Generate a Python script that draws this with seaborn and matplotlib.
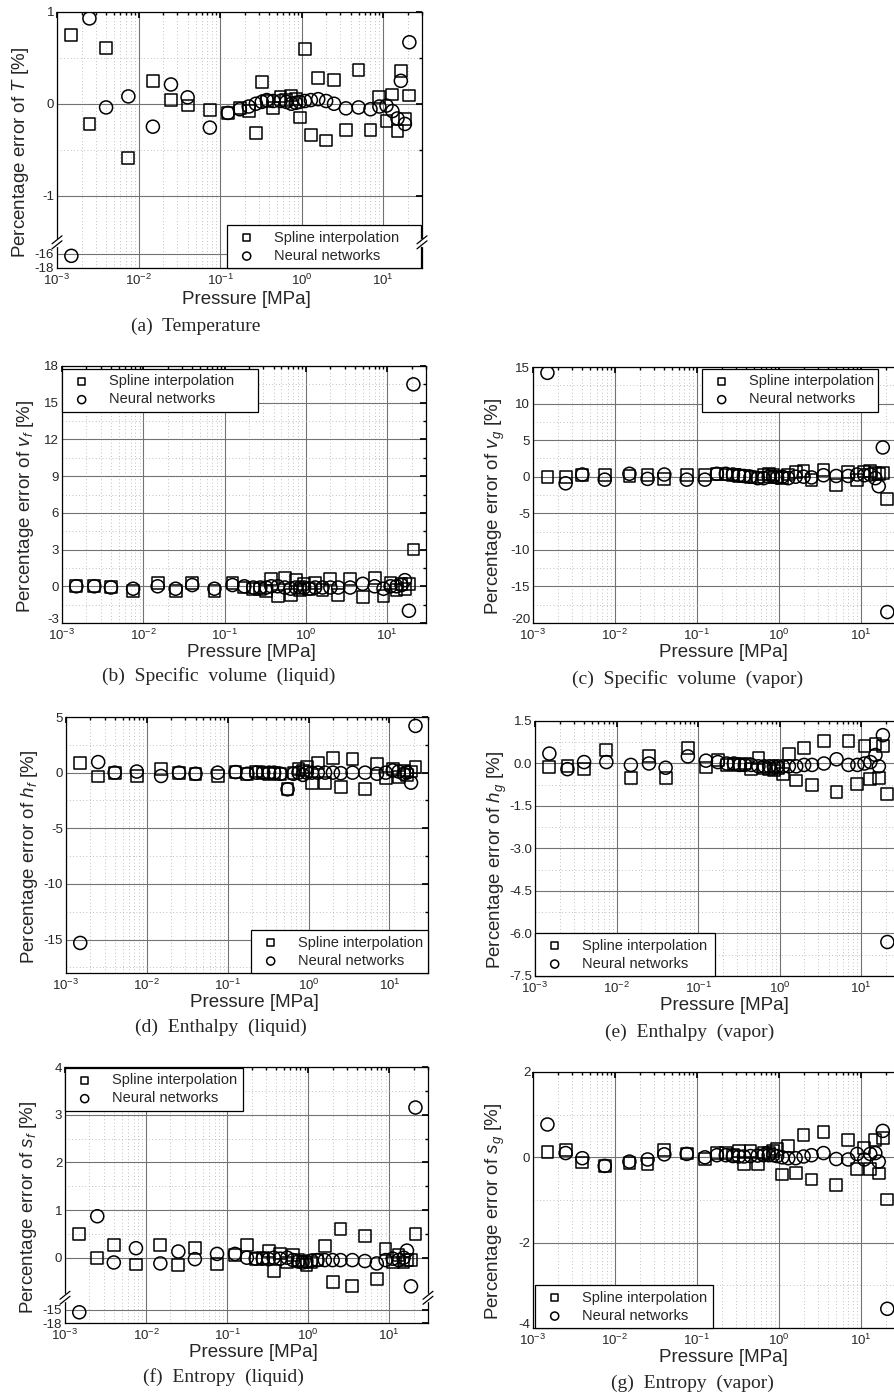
import numpy as np
import matplotlib
matplotlib.use("Agg")
import matplotlib.pyplot as plt
import matplotlib.transforms as mtransforms
import seaborn as sns
from matplotlib.ticker import LogLocator, FixedLocator, MultipleLocator, FormatStrFormatter, NullFormatter

# saturation pressures of the test points [MPa]
pressure = [0.0015, 0.0025, 0.004, 0.0075, 0.015, 0.025, 0.04, 0.075, 0.125, 0.175,
            0.225, 0.275, 0.325, 0.375, 0.45, 0.55, 0.65, 0.75, 0.85, 0.95,
            1.1, 1.3, 1.6, 2.0, 2.5, 3.5, 5.0, 7.0, 9.0, 11.0,
            13.0, 15.0, 16.5, 18.5, 21.0]

# percentage errors
T_spline = [0.75, -0.22, 0.61, -0.59, 0.25, 0.04, -0.02, -0.07, -0.10, -0.05,
            -0.08, -0.32, 0.24, 0.03, -0.05, 0.08, 0.04, 0.09, 0.05, -0.15,
            0.60, -0.34, 0.28, -0.40, 0.26, -0.29, 0.37, -0.29, 0.07, -0.19,
            0.10, -0.30, 0.36, -0.17, 0.09]
T_nn = [-16.3, 0.93, -0.04, 0.08, -0.25, 0.21, 0.07, -0.26, -0.10, -0.06,
        -0.03, 0.00, 0.02, 0.04, 0.03, 0.03, 0.02, 0.00, 0.01, 0.02,
        0.03, 0.04, 0.05, 0.03, 0.00, -0.05, -0.04, -0.06, -0.03, -0.02,
        -0.08, -0.16, 0.25, -0.22, 0.67]

vf_spline = [0.05, 0.0, -0.05, -0.4, 0.3, -0.4, 0.3, -0.4, 0.3, -0.1,
             -0.2, -0.2, -0.4, 0.6, -0.8, 0.7, -0.7, 0.5, -0.3, 0.2,
             -0.2, 0.3, -0.3, 0.6, -0.7, 0.6, -0.9, 0.7, -0.8, 0.3,
             -0.3, 0.2, -0.2, 0.2, 3.0]
vf_nn = [0.0, 0.0, -0.1, -0.2, 0.0, -0.2, 0.1, -0.2, 0.1, 0.0,
         -0.1, -0.1, -0.1, 0.0, 0.0, -0.1, -0.2, -0.1, -0.1, -0.1,
         -0.2, -0.1, -0.1, -0.1, -0.1, -0.1, 0.2, 0.0, -0.2, 0.0,
         0.0, 0.1, 0.5, -2.0, 16.5]

vg_spline = [0.0, 0.0, 0.2, 0.2, 0.1, 0.2, -0.3, 0.2, 0.2, 0.4,
             0.3, 0.2, 0.1, 0.1, 0.0, -0.1, 0.3, 0.4, 0.2, 0.0,
             -0.2, 0.3, 0.6, 0.8, -0.5, 0.9, -1.1, 0.6, -0.4, 0.7,
             0.8, 0.5, 0.4, 0.5, -3.0]
vg_nn = [14.2, -0.9, 0.3, -0.4, 0.4, -0.3, 0.3, -0.4, -0.4, 0.4,
         0.4, 0.3, 0.2, 0.1, 0.0, -0.2, -0.2, 0.0, 0.0, -0.1,
         0.0, -0.2, 0.0, 0.0, -0.1, 0.2, 0.1, 0.1, 0.3, 0.2,
         0.3, -0.2, -1.3, 4.0, -18.5]

hf_spline = [0.85, -0.35, 0.0, -0.3, 0.35, -0.05, -0.1, -0.3, 0.05, -0.1,
             0.1, 0.0, -0.1, 0.0, -0.1, -1.5, 0.0, 0.3, 0.2, 0.5,
             -0.9, 0.9, -0.95, 1.3, -1.3, 1.25, -1.5, 0.75, -0.5, 0.3,
             -0.4, 0.2, -0.2, 0.1, 0.5]
hf_nn = [-15.3, 0.95, 0.0, 0.1, -0.3, 0.0, -0.1, 0.0, 0.05, -0.1,
         0.0, 0.0, 0.0, 0.0, -0.1, -1.5, -0.1, 0.0, -0.2, 0.0,
         0.0, 0.0, 0.0, 0.0, -0.05, 0.0, 0.0, -0.1, 0.0, 0.2,
         0.1, -0.1, 0.0, -0.9, 4.2]

hg_spline = [-0.12, -0.10, -0.20, 0.47, -0.52, 0.27, -0.50, 0.56, -0.14, 0.12,
             -0.05, -0.03, -0.05, 0.00, -0.20, 0.20, -0.15, -0.20, -0.25, -0.15,
             -0.38, 0.34, -0.60, 0.55, -0.75, 0.80, -1.00, 0.80, -0.73, 0.62,
             -0.55, 0.68, -0.50, 0.62, -1.08]
hg_nn = [0.35, -0.2, 0.05, 0.05, -0.05, 0.0, -0.15, 0.25, 0.1, 0.05,
         0.0, 0.0, -0.05, -0.05, -0.05, -0.1, -0.1, -0.1, -0.1, -0.1,
         -0.1, -0.1, -0.1, -0.05, -0.05, 0.0, 0.15, -0.05, -0.05, 0.0,
         0.05, 0.3, -0.1, 1.0, -6.3]

sf_spline = [0.49, -0.01, 0.26, -0.14, 0.26, -0.15, 0.20, -0.13, 0.06, 0.26,
             -0.02, 0.00, 0.14, -0.28, 0.09, -0.10, 0.05, -0.05, -0.08, -0.15,
             -0.10, -0.05, 0.25, -0.51, 0.60, -0.60, 0.46, -0.44, 0.19, -0.10,
             0.05, -0.10, -0.05, -0.05, 0.49]
sf_nn = [-15.6, 0.87, -0.1, 0.2, -0.12, 0.13, -0.03, 0.08, 0.08, 0.0,
         -0.02, -0.02, -0.03, 0.0, -0.02, 0.0, -0.05, -0.08, -0.1, -0.08,
         -0.06, -0.05, -0.05, -0.05, -0.05, -0.05, -0.07, -0.12, -0.05, -0.02,
         -0.05, 0.0, 0.15, -0.6, 3.15]

sg_spline = [0.12, 0.18, -0.12, -0.21, -0.13, -0.15, 0.18, 0.09, -0.04, 0.10,
             0.10, 0.05, 0.15, -0.15, 0.15, -0.15, 0.10, 0.10, 0.15, 0.20,
             -0.40, 0.26, -0.37, 0.53, -0.52, 0.60, -0.65, 0.40, -0.27, 0.22,
             -0.27, 0.40, -0.38, 0.45, -0.99]
sg_nn = [0.77, 0.1, -0.02, -0.2, -0.1, -0.05, 0.07, 0.08, 0.0, 0.05,
         0.05, 0.03, 0.02, 0.02, 0.03, 0.04, 0.05, 0.05, 0.05, 0.03,
         0.0, -0.02, -0.02, 0.02, 0.05, 0.1, -0.04, -0.05, 0.08, -0.05,
         0.08, 0.1, -0.1, 0.62, -3.55]

sns.set_theme(style="white")
plt.rcParams["font.family"] = ["Liberation Sans", "DejaVu Sans"]
plt.rcParams["mathtext.fontset"] = "custom"
plt.rcParams["mathtext.rm"] = "Liberation Sans"
plt.rcParams["mathtext.it"] = "Liberation Sans:italic"
plt.rcParams["mathtext.bf"] = "Liberation Sans:bold"
plt.rcParams["axes.unicode_minus"] = False

W, H = 894, 1398
fig = plt.figure(figsize=(W / 100, H / 100), dpi=100)


def broken_scale(d_kn, t_kn):
    return (lambda y: np.interp(y, d_kn, t_kn),
            lambda t: np.interp(t, t_kn, d_kn))


panels = [
    dict(box=(57, 12, 422, 268), spline=T_spline, nn=T_nn,
         ylabel="Percentage error of $T$ [%]", ylim=(-18, 1),
         yticks=[-18, -16, -1, 0, 1], minor=[-0.5, 0.5],
         knots=([-1e4, -14.5, -1.51, 1e4], [-1.517 - (1e4 - 14.5) * 0.078, -1.517, -1.51, 1e4]),
         brk=-1.513, loc="lower left", leg=(227, 421, "bottom"),
         caption="(a)  Temperature", cpos=(196, 326), xl=-23),
    dict(box=(62, 366, 426, 623), spline=vf_spline, nn=vf_nn,
         ylabel="Percentage error of $v_f$ [%]", ylim=(-3, 18),
         yticks=list(range(-3, 19, 3)), minor=1.5, lift=True,
         loc="upper left", leg=(62, 258, 369),
         caption="(b)  Specific  volume  (liquid)", cpos=(219, 676), xl=-21),
    dict(box=(533, 367, 900, 623), spline=vg_spline, nn=vg_nn,
         ylabel="Percentage error of $v_g$ [%]", ylim=(-20, 15),
         yticks=list(range(-20, 16, 5)), minor=2.5, lift=True,
         loc="upper left", leg=(702, 878, 369),
         caption="(c)  Specific  volume  (vapor)", cpos=(688, 679), xl=-21),
    dict(box=(66, 717, 428, 973), spline=hf_spline, nn=hf_nn,
         ylabel="Percentage error of $h_f$ [%]", ylim=(-18, 5),
         yticks=[-15, -10, -5, 0, 5], minor=2.5,
         loc="lower left", leg=(251, 428, "bottom"),
         caption="(d)  Enthalpy  (liquid)", cpos=(221, 1027), xl=-21),
    dict(box=(535, 721, 900, 976), spline=hg_spline, nn=hg_nn,
         ylabel="Percentage error of $h_g$ [%]", ylim=(-7.5, 1.5),
         yticks=[-7.5, -6.0, -4.5, -3.0, -1.5, 0.0, 1.5], minor=0.75, fmt="%.1f",
         loc="lower left", leg=(535, 715, "bottom"),
         caption="(e)  Enthalpy  (vapor)", cpos=(690, 1032), xl=-21),
    dict(box=(65, 1067, 428, 1323), spline=sf_spline, nn=sf_nn,
         ylabel="Percentage error of $s_f$ [%]", ylim=(-18, 4),
         yticks=[-18, -15, 0, 1, 2, 3, 4], minor=[0.5, 1.5, 2.5, 3.5],
         knots=([-1e4, -12.4, -0.84, 1e4], [-0.845 - (1e4 - 12.4) * 0.0936, -0.845, -0.84, 1e4]),
         brk=-0.842, loc="upper left", leg=(65, 243, 1068),
         caption="(f)  Entropy  (liquid)", cpos=(223, 1377), xl=-21),
    dict(box=(533, 1072, 900, 1328), spline=sg_spline, nn=sg_nn,
         ylabel="Percentage error of $s_g$ [%]", ylim=(-4, 2),
         yticks=[-4, -2, 0, 2], minor=1.0, lift=True,
         loc="lower left", leg=(535, 713, "bottom"),
         caption="(g)  Entropy  (vapor)", cpos=(692, 1383), xl=-21),
]

for p in panels:
    l, t, r, b = p["box"]
    w, h = r - l, b - t
    ax = fig.add_axes([l / W, 1 - b / H, w / W, h / H])

    sns.scatterplot(x=pressure, y=p["spline"], marker="s", s=72, facecolor="none",
                    edgecolor="black", linewidth=1.1, label="Spline interpolation",
                    legend=False, ax=ax, zorder=3)
    sns.scatterplot(x=pressure, y=p["nn"], marker="o", s=88, facecolor="none",
                    edgecolor="black", linewidth=1.1, label="Neural networks",
                    legend=False, ax=ax, zorder=3)

    ax.set_xscale("log")
    ax.set_xlim(1e-3, 30)
    ax.xaxis.set_major_locator(LogLocator(base=10, numticks=10))
    ax.xaxis.set_minor_locator(LogLocator(base=10, subs=np.arange(2, 10), numticks=20))
    ax.xaxis.set_minor_formatter(NullFormatter())

    if "knots" in p:
        ax.set_yscale("function", functions=broken_scale(*p["knots"]))
    ax.set_ylim(*p["ylim"])
    ax.set_yticks(p["yticks"])
    if isinstance(p["minor"], list):
        ax.yaxis.set_minor_locator(FixedLocator(p["minor"]))
    else:
        ax.yaxis.set_minor_locator(MultipleLocator(p["minor"]))
    if "fmt" in p:
        ax.yaxis.set_major_formatter(FormatStrFormatter(p["fmt"]))

    ax.grid(which="major", color="0.45", lw=0.8, ls="-")
    ax.grid(which="minor", color="0.68", lw=0.6, ls=(0, (1, 3)))
    ax.set_axisbelow(True)
    ax.tick_params(which="both", direction="in", top=True, right=True, labelsize=9.5,
                   color="black")
    ax.tick_params(axis="x", which="major", pad=3.5)
    ax.tick_params(axis="y", which="major", pad=2)
    ax.tick_params(which="major", length=4)
    ax.tick_params(which="minor", length=2)
    for sp in ax.spines.values():
        sp.set_color("black")
        sp.set_linewidth(0.9)

    # bottom y label sits just above the 10^-3 label, as in the scan
    if p.get("lift"):
        lab = ax.yaxis.get_major_ticks()[0].label1
        lab.set_transform(lab.get_transform()
                          + mtransforms.ScaledTranslation(0, 0.045, fig.dpi_scale_trans))

    ax.set_xlabel("Pressure [MPa]", fontsize=13.5)
    ax.set_ylabel(p["ylabel"], fontsize=13.5)
    ax.xaxis.set_label_coords(0.52, p["xl"] / h)
    ax.yaxis.set_label_coords(-26 / w, 0.5 - 12 / h)

    # legend box in axes fraction, stretched to the width seen in the scan
    x0, x1, top = p["leg"]
    fx0, fw = (x0 - l) / w, (x1 - x0) / w
    if top == "bottom":
        anchor = (fx0, 0, fw, 0.3)
    else:
        anchor = (fx0, 1 - (top - t) / h - 0.3, fw, 0.3)
    leg = ax.legend(loc=p["loc"], bbox_to_anchor=anchor, mode="expand", borderaxespad=0,
                    fontsize=10.5, markerscale=0.62, frameon=True, fancybox=False,
                    edgecolor="black", framealpha=1, handlelength=2.0,
                    handletextpad=0.9, borderpad=0.35, labelspacing=0.3)
    leg.get_frame().set_linewidth(0.9)

    if "brk" in p:
        t0 = ax.yaxis.get_transform().transform
        lo, hi = t0(np.array([p["ylim"][0], p["ylim"][1]]))
        yb = (t0(np.array([p["brk"]]))[0] - lo) / (hi - lo)
        dx, dy, gap = 5 / w, 4 / h, 2.5 / h
        for xx in (0, 1):
            ax.plot([xx, xx], [yb - gap, yb + gap], transform=ax.transAxes, color="white",
                    lw=2.5, clip_on=False, zorder=6)
            for off in (-gap, gap):
                ax.plot([xx - dx, xx + dx], [yb + off - dy, yb + off + dy],
                        transform=ax.transAxes, color="black", lw=0.9, clip_on=False, zorder=7)

    fig.text(p["cpos"][0] / W, 1 - p["cpos"][1] / H, p["caption"], ha="center", va="center",
             fontsize=14, family=["Liberation Serif", "DejaVu Serif"])

fig.savefig("out.png", dpi=100)
